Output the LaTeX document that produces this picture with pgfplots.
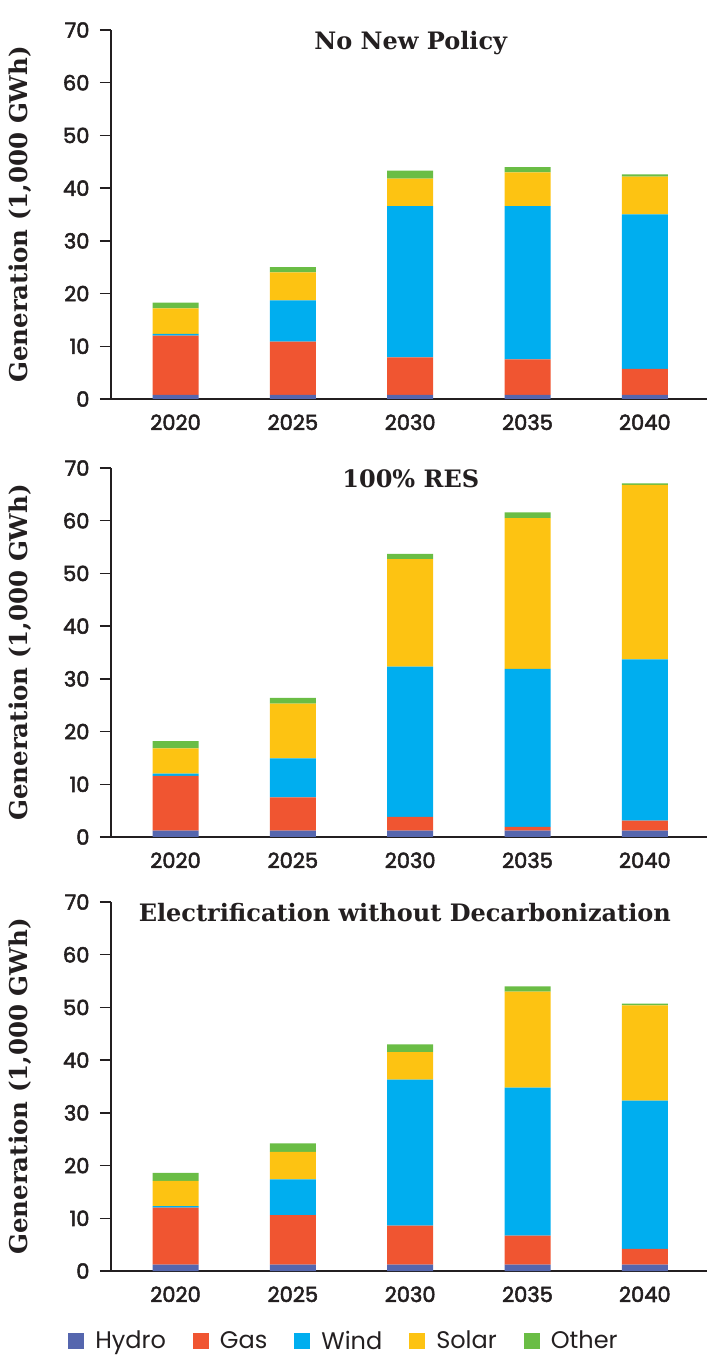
\documentclass[border=0pt]{standalone}
\usepackage{pgfplots}
\usepackage{pgfplotstable}
\pgfplotsset{compat=1.18}
\usepackage{fontspec}
\setmainfont{Poppins}
\newfontfamily\tickfont{Poppins}[FakeBold=2.5]
\newfontfamily\serif{DejaVu Serif}
\definecolor{hydro}{HTML}{5566AE}
\definecolor{gas}{HTML}{F05531}
\definecolor{wind}{HTML}{00AEEF}
\definecolor{solar}{HTML}{FDC312}
\definecolor{other}{HTML}{6ABD45}
\definecolor{axisc}{HTML}{231F20}

% increments (1,000 GWh)
\pgfplotstableread{
x hydro gas wind solar other
0 0.8 11.2 0.36 4.84 1.1
1 0.8 10.1 7.8 5.3 1.0
2 0.8 7.1 28.7 5.2 1.5
3 0.8 6.7 29.1 6.4 1.0
4 0.8 4.9 29.3 7.2 0.4
}\tabA
\pgfplotstableread{
x hydro gas wind solar other
0 1.2 10.4 0.4 4.8 1.4
1 1.2 6.3 7.4 10.4 1.1
2 1.2 2.6 28.5 20.4 1.0
3 1.2 0.7 30.0 28.6 1.1
4 1.2 1.9 30.6 33.1 0.3
}\tabB
\pgfplotstableread{
x hydro gas wind solar other
0 1.2 10.8 0.3 4.8 1.5
1 1.2 9.4 6.8 5.2 1.6
2 1.2 7.4 27.7 5.2 1.5
3 1.2 5.5 28.1 18.2 1.0
4 1.2 3.0 28.1 18.1 0.3
}\tabC

\pgfplotsset{
  sq/.style={legend image code/.code={\fill[##1,draw=none] (0pt,-8pt) rectangle (16pt,8pt);}},
  panel/.style={
    width=596pt, height=369pt, scale only axis,
    ybar stacked, bar width=46pt,
    xmin=-0.55, xmax=4.53, ymin=0, ymax=70,
    enlargelimits=false, clip=false,
    xtick={0,1,2,3,4}, xticklabels={2020,2025,2030,2035,2040},
    ytick={0,10,...,70},
    axis x line=bottom, axis y line=left,
    axis line style={-, line width=1.5pt, color=axisc},
    x axis line style={shorten <=-11pt},
    tick align=outside, major tick length=11pt,
    ytick style={line width=1.5pt, color=axisc},
    xtick style={draw=none},
    /pgf/number format/assume math mode=true,
    ticklabel style={font=\tickfont\fontsize{21}{23}\selectfont, text=axisc},
    yticklabel style={xshift=-7pt},
    xticklabel style={yshift=-1pt},
    ylabel={Generation (1,000 GWh)},
    every axis y label/.style={at={(axis description cs:-0.153,0.5)}, rotate=90, anchor=center,
      font=\serif\bfseries\fontsize{24.5}{26}\selectfont, text=axisc},
  }
}

\newcommand{\bars}[1]{%
  \addplot[fill=hydro, draw=none, sq] table[x=x, y=hydro] {#1};
  \addplot[fill=gas, draw=none, sq] table[x=x, y=gas] {#1};
  \addplot[fill=wind, draw=none, sq] table[x=x, y=wind] {#1};
  \addplot[fill=solar, draw=none, sq] table[x=x, y=solar] {#1};
  \addplot[fill=other, draw=none, sq] table[x=x, y=other] {#1};
}

\begin{document}
\begin{tikzpicture}
\useasboundingbox (0,0) rectangle (707pt,1357pt);

\begin{axis}[panel, at={(111pt,958pt)}, anchor=south west]
\bars{\tabA}
\node[font=\serif\bfseries\fontsize{24}{26}\selectfont, text=axisc, anchor=base] at (axis description cs:0.503,0.946) {No New Policy};
\end{axis}

\begin{axis}[panel, at={(111pt,520pt)}, anchor=south west]
\bars{\tabB}
\node[font=\serif\bfseries\fontsize{24}{26}\selectfont, text=axisc, anchor=base] at (axis description cs:0.503,0.946) {100\% RES};
\end{axis}

\begin{axis}[panel, at={(111pt,86pt)}, anchor=south west,
  legend columns=5,
  legend style={at={(axis description cs:-0.072,-0.189)}, anchor=west, draw=none, fill=none,
    inner sep=0pt, font=\fontsize{24}{26}\selectfont, text=axisc,
    /tikz/every odd column/.append style={column sep=9pt},
    /tikz/every even column/.append style={column sep=25pt}},
  legend cell align=left]
\bars{\tabC}
\legend{Hydro,Gas,Wind,Solar,Other}
\node[font=\serif\bfseries\fontsize{24}{26}\selectfont, text=axisc, anchor=base] at (axis description cs:0.493,0.946) {Electrification without Decarbonization};
\end{axis}
\end{tikzpicture}
\end{document}
